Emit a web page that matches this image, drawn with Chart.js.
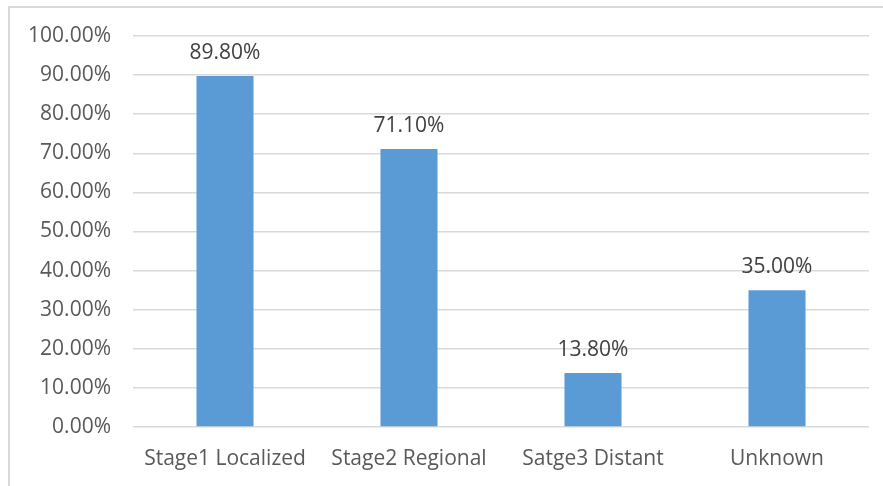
<!DOCTYPE html>
<html>
<head>
<meta charset="utf-8">
<script src="https://cdn.jsdelivr.net/npm/chart.js@4"></script>
<style>
  html, body { margin: 0; padding: 0; background: #fff; }
  #wrap { position: relative; width: 883px; height: 486px; }
  #frame {
    position: absolute; left: 8px; top: 6px; right: 0; bottom: 0;
    border-top: 2px solid #d9d9d9; border-left: 2px solid #d9d9d9;
  }
  #wrap canvas { position: absolute; left: 0; top: 0; }
</style>
</head>
<body>
<div id="wrap">
  <div id="frame"></div>
  <canvas id="stageChart" width="883" height="486"></canvas>
</div>
<script>
// survival by stage
const stages = ['Stage1 Localized', 'Stage2 Regional', 'Satge3 Distant', 'Unknown'];
const rates = [89.8, 71.1, 13.8, 35.0];
const yTicks = [0, 10, 20, 30, 40, 50, 60, 70, 80, 90, 100];

const fontFamily = '"Open Sans", Lato, sans-serif';
const fontSize = 21;

// value labels above each bar
const barLabels = {
  id: 'barLabels',
  afterDatasetsDraw(chart) {
    const ctx = chart.ctx;
    const meta = chart.getDatasetMeta(0);
    ctx.save();
    ctx.font = fontSize + 'px ' + fontFamily;
    ctx.fillStyle = '#404040';
    ctx.textAlign = 'center';
    ctx.textBaseline = 'middle';
    meta.data.forEach(function(bar, i) {
      ctx.fillText(rates[i].toFixed(2) + '%', bar.x, bar.y - 23);
    });
    ctx.restore();
  }
};

new Chart(document.getElementById('stageChart'), {
  type: 'bar',
  data: {
    labels: stages,
    datasets: [{
      data: rates,
      backgroundColor: '#5b9bd5',
      barPercentage: 0.31,
      categoryPercentage: 1
    }]
  },
  options: {
    responsive: false,
    animation: false,
    layout: { padding: { top: 36, right: 14, left: 0, bottom: 0 } },
    plugins: {
      legend: { display: false },
      tooltip: { enabled: false }
    },
    scales: {
      x: {
        grid: { display: false, drawTicks: false },
        border: { display: false },
        ticks: {
          color: '#595959',
          font: { family: fontFamily, size: fontSize },
          padding: 19,
          maxRotation: 0
        },
        afterFit(scale) { scale.height = 59; }
      },
      y: {
        min: 0,
        max: 100,
        afterBuildTicks(scale) {
          scale.ticks = yTicks.map(v => ({ value: v }));
        },
        grid: { color: '#d9d9d9', lineWidth: 1.5, drawTicks: false },
        border: { display: false },
        ticks: {
          color: '#595959',
          font: { family: fontFamily, size: fontSize },
          padding: 22,
          callback: v => v.toFixed(2) + '%'
        },
        afterFit(scale) { scale.width = 133; }
      }
    }
  },
  plugins: [barLabels]
});
</script>
</body>
</html>
